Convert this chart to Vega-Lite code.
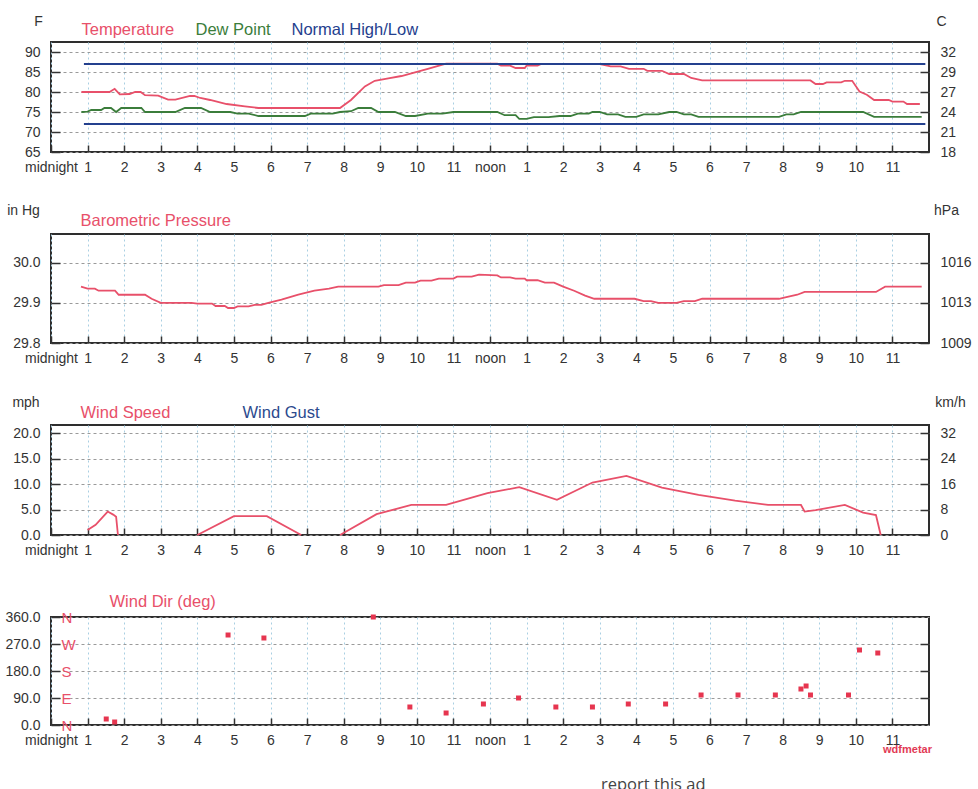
{
  "$schema": "https://vega.github.io/schema/vega-lite/v6.json",
  "background": "white",
  "padding": {"left": 3, "top": 13, "right": 5, "bottom": 0},
  "bounds": "flush",
  "spacing": 82,
  "title": {"text": "report this ad", "orient": "bottom", "anchor": "start", "frame": "group", "dx": 550, "offset": 22, "font": "Open Sans", "fontSize": 16.5, "fontWeight": "normal", "color": "#444"},
  "resolve": {"scale": {"color": "independent"}, "legend": {"color": "independent"}},
  "datasets": {
    "temp": [
      {"h":0.83,"v":80,"s":"Temperature"},{"h":1.6,"v":80,"s":"Temperature"},{"h":1.74,"v":80.8,"s":"Temperature"},{"h":1.88,"v":79.4,"s":"Temperature"},{"h":2.15,"v":79.5,"s":"Temperature"},{"h":2.3,"v":80,"s":"Temperature"},{"h":2.45,"v":80,"s":"Temperature"},{"h":2.57,"v":79.2,"s":"Temperature"},{"h":2.93,"v":79.1,"s":"Temperature"},{"h":3.2,"v":78.1,"s":"Temperature"},{"h":3.4,"v":78.1,"s":"Temperature"},{"h":3.8,"v":79,"s":"Temperature"},{"h":3.92,"v":79,"s":"Temperature"},{"h":4.08,"v":78.5,"s":"Temperature"},{"h":4.35,"v":78,"s":"Temperature"},{"h":4.8,"v":77,"s":"Temperature"},{"h":5.3,"v":76.4,"s":"Temperature"},{"h":5.67,"v":76,"s":"Temperature"},{"h":7.9,"v":76,"s":"Temperature"},{"h":8.2,"v":78,"s":"Temperature"},{"h":8.58,"v":81.4,"s":"Temperature"},{"h":8.85,"v":82.8,"s":"Temperature"},{"h":9.22,"v":83.4,"s":"Temperature"},{"h":9.58,"v":84,"s":"Temperature"},{"h":9.95,"v":84.9,"s":"Temperature"},{"h":10.3,"v":85.8,"s":"Temperature"},{"h":10.68,"v":86.8,"s":"Temperature"},{"h":10.8,"v":87.1,"s":"Temperature"},{"h":12.2,"v":87.1,"s":"Temperature"},{"h":12.3,"v":86.6,"s":"Temperature"},{"h":12.55,"v":86.6,"s":"Temperature"},{"h":12.7,"v":86,"s":"Temperature"},{"h":12.95,"v":86,"s":"Temperature"},{"h":13.0,"v":86.6,"s":"Temperature"},{"h":13.3,"v":86.6,"s":"Temperature"},{"h":13.4,"v":87,"s":"Temperature"},{"h":15.0,"v":87,"s":"Temperature"},{"h":15.3,"v":86.4,"s":"Temperature"},{"h":15.57,"v":86.4,"s":"Temperature"},{"h":15.8,"v":85.8,"s":"Temperature"},{"h":16.2,"v":85.8,"s":"Temperature"},{"h":16.3,"v":85.3,"s":"Temperature"},{"h":16.7,"v":85.3,"s":"Temperature"},{"h":16.9,"v":84.5,"s":"Temperature"},{"h":17.3,"v":84.5,"s":"Temperature"},{"h":17.5,"v":83.5,"s":"Temperature"},{"h":17.8,"v":82.9,"s":"Temperature"},{"h":20.76,"v":82.9,"s":"Temperature"},{"h":20.9,"v":82,"s":"Temperature"},{"h":21.1,"v":82,"s":"Temperature"},{"h":21.2,"v":82.4,"s":"Temperature"},{"h":21.6,"v":82.4,"s":"Temperature"},{"h":21.7,"v":82.8,"s":"Temperature"},{"h":21.9,"v":82.8,"s":"Temperature"},{"h":22.1,"v":80.1,"s":"Temperature"},{"h":22.3,"v":79.3,"s":"Temperature"},{"h":22.5,"v":78,"s":"Temperature"},{"h":22.9,"v":78,"s":"Temperature"},{"h":23.0,"v":77.6,"s":"Temperature"},{"h":23.3,"v":77.6,"s":"Temperature"},{"h":23.4,"v":77,"s":"Temperature"},{"h":23.75,"v":77,"s":"Temperature"},
      {"h":0.83,"v":75,"s":"Dew Point"},{"h":1.0,"v":75.1,"s":"Dew Point"},{"h":1.1,"v":75.5,"s":"Dew Point"},{"h":1.37,"v":75.5,"s":"Dew Point"},{"h":1.46,"v":76,"s":"Dew Point"},{"h":1.64,"v":76,"s":"Dew Point"},{"h":1.78,"v":75,"s":"Dew Point"},{"h":1.92,"v":76,"s":"Dew Point"},{"h":2.47,"v":76,"s":"Dew Point"},{"h":2.57,"v":75,"s":"Dew Point"},{"h":3.4,"v":75,"s":"Dew Point"},{"h":3.66,"v":76,"s":"Dew Point"},{"h":4.1,"v":76,"s":"Dew Point"},{"h":4.35,"v":75,"s":"Dew Point"},{"h":4.9,"v":75,"s":"Dew Point"},{"h":5.1,"v":74.6,"s":"Dew Point"},{"h":5.4,"v":74.6,"s":"Dew Point"},{"h":5.67,"v":74,"s":"Dew Point"},{"h":6.94,"v":74,"s":"Dew Point"},{"h":7.1,"v":74.6,"s":"Dew Point"},{"h":7.7,"v":74.6,"s":"Dew Point"},{"h":7.9,"v":75,"s":"Dew Point"},{"h":8.2,"v":75.2,"s":"Dew Point"},{"h":8.4,"v":76,"s":"Dew Point"},{"h":8.75,"v":76,"s":"Dew Point"},{"h":8.95,"v":75,"s":"Dew Point"},{"h":9.4,"v":75,"s":"Dew Point"},{"h":9.7,"v":74,"s":"Dew Point"},{"h":9.95,"v":74,"s":"Dew Point"},{"h":10.3,"v":74.6,"s":"Dew Point"},{"h":10.7,"v":74.6,"s":"Dew Point"},{"h":11.0,"v":75,"s":"Dew Point"},{"h":12.2,"v":75,"s":"Dew Point"},{"h":12.4,"v":74.2,"s":"Dew Point"},{"h":12.7,"v":74.2,"s":"Dew Point"},{"h":12.8,"v":73.3,"s":"Dew Point"},{"h":13.0,"v":73.3,"s":"Dew Point"},{"h":13.2,"v":73.7,"s":"Dew Point"},{"h":13.6,"v":73.7,"s":"Dew Point"},{"h":13.9,"v":74,"s":"Dew Point"},{"h":14.2,"v":74,"s":"Dew Point"},{"h":14.4,"v":74.6,"s":"Dew Point"},{"h":14.7,"v":74.6,"s":"Dew Point"},{"h":14.8,"v":75,"s":"Dew Point"},{"h":15.0,"v":75,"s":"Dew Point"},{"h":15.2,"v":74.4,"s":"Dew Point"},{"h":15.5,"v":74.4,"s":"Dew Point"},{"h":15.7,"v":73.8,"s":"Dew Point"},{"h":16.0,"v":73.8,"s":"Dew Point"},{"h":16.2,"v":74.4,"s":"Dew Point"},{"h":16.6,"v":74.4,"s":"Dew Point"},{"h":16.9,"v":75,"s":"Dew Point"},{"h":17.1,"v":75,"s":"Dew Point"},{"h":17.3,"v":74.4,"s":"Dew Point"},{"h":17.5,"v":74.4,"s":"Dew Point"},{"h":17.7,"v":73.8,"s":"Dew Point"},{"h":19.9,"v":73.8,"s":"Dew Point"},{"h":20.1,"v":74.4,"s":"Dew Point"},{"h":20.3,"v":74.4,"s":"Dew Point"},{"h":20.5,"v":75,"s":"Dew Point"},{"h":22.2,"v":75,"s":"Dew Point"},{"h":22.5,"v":73.8,"s":"Dew Point"},{"h":23.8,"v":73.8,"s":"Dew Point"}
    ],
    "normal": [
      {"h":0.9,"v":87,"k":"high","s":"Normal High/Low"},{"h":23.9,"v":87,"k":"high","s":"Normal High/Low"},
      {"h":0.9,"v":72,"k":"low","s":"Normal High/Low"},{"h":23.9,"v":72,"k":"low","s":"Normal High/Low"}
    ],
    "pres": [
      {"h":0.82,"v":29.94},{"h":1.0,"v":29.935},{"h":1.2,"v":29.935},{"h":1.3,"v":29.93},{"h":1.75,"v":29.93},{"h":1.85,"v":29.92},{"h":2.57,"v":29.92},{"h":2.75,"v":29.91},{"h":3.0,"v":29.9},{"h":3.84,"v":29.9},{"h":4.0,"v":29.898},{"h":4.4,"v":29.898},{"h":4.5,"v":29.892},{"h":4.75,"v":29.892},{"h":4.84,"v":29.887},{"h":5.0,"v":29.887},{"h":5.1,"v":29.891},{"h":5.4,"v":29.891},{"h":5.57,"v":29.895},{"h":5.75,"v":29.895},{"h":5.94,"v":29.9},{"h":6.3,"v":29.908},{"h":6.76,"v":29.92},{"h":7.2,"v":29.93},{"h":7.6,"v":29.935},{"h":7.85,"v":29.94},{"h":8.95,"v":29.94},{"h":9.1,"v":29.944},{"h":9.5,"v":29.944},{"h":9.7,"v":29.95},{"h":9.95,"v":29.95},{"h":10.1,"v":29.955},{"h":10.4,"v":29.955},{"h":10.6,"v":29.96},{"h":11.0,"v":29.96},{"h":11.1,"v":29.965},{"h":11.5,"v":29.965},{"h":11.7,"v":29.97},{"h":12.2,"v":29.968},{"h":12.3,"v":29.963},{"h":12.55,"v":29.963},{"h":12.7,"v":29.96},{"h":12.95,"v":29.96},{"h":13.0,"v":29.956},{"h":13.3,"v":29.956},{"h":13.5,"v":29.95},{"h":13.75,"v":29.95},{"h":14.0,"v":29.94},{"h":14.3,"v":29.93},{"h":14.6,"v":29.918},{"h":14.85,"v":29.91},{"h":15.95,"v":29.91},{"h":16.2,"v":29.904},{"h":16.4,"v":29.904},{"h":16.6,"v":29.9},{"h":17.1,"v":29.9},{"h":17.3,"v":29.904},{"h":17.6,"v":29.904},{"h":17.8,"v":29.91},{"h":19.9,"v":29.91},{"h":20.1,"v":29.914},{"h":20.4,"v":29.92},{"h":20.6,"v":29.927},{"h":22.55,"v":29.927},{"h":22.8,"v":29.94},{"h":23.8,"v":29.94}
    ],
    "wind": [
      {"h":1.0,"v":1.0,"g":1},{"h":1.22,"v":2.0,"g":1},{"h":1.55,"v":4.6,"g":1},{"h":1.7,"v":4.0,"g":1},{"h":1.78,"v":3.6,"g":1},{"h":1.83,"v":0,"g":1},
      {"h":4.0,"v":0,"g":2},{"h":5.0,"v":3.7,"g":2},{"h":5.9,"v":3.7,"g":2},{"h":6.84,"v":0,"g":2},
      {"h":7.9,"v":0,"g":3},{"h":8.9,"v":4.1,"g":3},{"h":9.85,"v":5.9,"g":3},{"h":10.8,"v":5.9,"g":3},{"h":11.93,"v":8.2,"g":3},{"h":12.8,"v":9.4,"g":3},{"h":13.83,"v":6.9,"g":3},{"h":14.8,"v":10.3,"g":3},{"h":15.73,"v":11.6,"g":3},{"h":16.7,"v":9.3,"g":3},{"h":17.7,"v":7.9,"g":3},{"h":18.7,"v":6.75,"g":3},{"h":19.6,"v":5.9,"g":3},{"h":20.5,"v":5.9,"g":3},{"h":20.6,"v":4.6,"g":3},{"h":20.9,"v":4.9,"g":3},{"h":21.7,"v":5.9,"g":3},{"h":22.2,"v":4.4,"g":3},{"h":22.55,"v":3.9,"g":3},{"h":22.68,"v":0,"g":3}
    ],
    "dir": [
      {"h":1.51,"v":20},{"h":1.74,"v":10},{"h":4.84,"v":300},{"h":5.82,"v":290},{"h":8.81,"v":360},{"h":9.81,"v":60},{"h":10.8,"v":40},{"h":11.82,"v":70},{"h":12.78,"v":90},{"h":13.8,"v":60},{"h":14.8,"v":60},{"h":15.78,"v":70},{"h":16.8,"v":70},{"h":17.77,"v":100},{"h":18.78,"v":100},{"h":19.8,"v":100},{"h":20.5,"v":120},{"h":20.64,"v":130},{"h":20.76,"v":100},{"h":21.8,"v":100},{"h":22.1,"v":250},{"h":22.6,"v":240}
    ]
  },
  "vconcat": [
    {
      "width": 878, "height": 110,
      "encoding": {"x": {"field": "h", "type": "quantitative", "scale": {"domain": [0, 24], "nice": false, "zero": false}, "axis": {"values": [0,1,2,3,4,5,6,7,8,9,10,11,12,13,14,15,16,17,18,19,20,21,22,23], "labelExpr": "datum.value == 0 ? 'midnight' : datum.value == 12 ? 'noon' : datum.value > 12 ? '' + (datum.value - 12) : '' + datum.value", "title": null}}},
      "resolve": {"scale": {"y": "independent"}},
      "layer": [
        {"data": {"name": "temp"}, "mark": {"type": "line", "strokeWidth": 1.8},
         "encoding": {
           "y": {"field": "v", "type": "quantitative", "scale": {"domain": [65, 92.5], "nice": false, "zero": false}, "axis": {"orient": "left", "values": [65,70,75,80,85,90], "format": "d", "title": "F", "titleX": -13, "titleY": -17}},
           "color": {"field": "s", "type": "nominal", "scale": {"domain": ["Temperature", "Dew Point", "Normal High/Low"], "range": ["#e8506a", "#3b7d3b", "#24408e"]},
             "legend": {"orient": "none", "legendX": 14, "legendY": -20, "direction": "horizontal", "title": null, "symbolType": "circle", "symbolSize": 0, "symbolStrokeWidth": 0, "symbolOpacity": 0, "labelOffset": 0, "columnPadding": 4, "labelFontSize": 16.5, "labelLimit": 400, "padding": 0,
               "encode": {"labels": {"update": {"fill": {"signal": "datum.value === 'Temperature' ? '#e8506a' : datum.value === 'Dew Point' ? '#3b7d3b' : '#24408e'"}}}}}}
         }},
        {"data": {"name": "normal"}, "mark": {"type": "line", "strokeWidth": 2},
         "encoding": {
           "y": {"field": "v", "type": "quantitative", "scale": {"domain": [65, 92.5], "nice": false, "zero": false}, "axis": null},
           "color": {"field": "s", "type": "nominal"},
           "detail": {"field": "k"}
         }},
        {"data": {"name": "temp"}, "mark": {"type": "line", "opacity": 0},
         "encoding": {
           "y": {"field": "v", "type": "quantitative", "scale": {"domain": [65, 92.5], "nice": false, "zero": false}, "axis": {"orient": "right", "grid": false, "values": [65,70,75,80,85,90], "labelExpr": "format((datum.value - 32) * 5 / 9, '.0f')", "title": "C", "titleX": 12, "titleY": -17}}
         }}
      ]
    },
    {
      "width": 878, "height": 109,
      "data": {"name": "pres"},
      "transform": [{"calculate": "'Barometric Pressure'", "as": "s"}],
      "encoding": {"x": {"field": "h", "type": "quantitative", "scale": {"domain": [0, 24], "nice": false, "zero": false}, "axis": {"values": [0,1,2,3,4,5,6,7,8,9,10,11,12,13,14,15,16,17,18,19,20,21,22,23], "labelExpr": "datum.value == 0 ? 'midnight' : datum.value == 12 ? 'noon' : datum.value > 12 ? '' + (datum.value - 12) : '' + datum.value", "title": null}}},
      "resolve": {"scale": {"y": "independent"}},
      "layer": [
        {"mark": {"type": "line", "strokeWidth": 1.8},
         "encoding": {
           "y": {"field": "v", "type": "quantitative", "scale": {"domain": [29.8, 30.071], "nice": false, "zero": false}, "axis": {"orient": "left", "values": [29.8, 29.9, 30.0], "format": ".1f", "title": "in Hg", "titleX": -28, "titleY": -20}},
           "color": {"field": "s", "type": "nominal", "scale": {"domain": ["Barometric Pressure"], "range": ["#e8506a"]},
             "legend": {"orient": "none", "legendX": 13, "legendY": -21, "direction": "horizontal", "title": null, "symbolType": "circle", "symbolSize": 0, "symbolStrokeWidth": 0, "symbolOpacity": 0, "labelOffset": 0, "labelFontSize": 16.5, "labelLimit": 400, "padding": 0, "labelColor": "#e8506a"}}
         }},
        {"mark": {"type": "line", "opacity": 0},
         "encoding": {
           "y": {"field": "v", "type": "quantitative", "scale": {"domain": [29.8, 30.071], "nice": false, "zero": false}, "axis": {"orient": "right", "grid": false, "values": [29.8, 29.9, 30.0], "labelExpr": "format(datum.value * 33.8639, '.0f')", "title": "hPa", "titleX": 17, "titleY": -20}}
         }}
      ]
    },
    {
      "width": 878, "height": 110,
      "data": {"name": "wind"},
      "transform": [{"calculate": "'Wind Speed'", "as": "s"}],
      "encoding": {"x": {"field": "h", "type": "quantitative", "scale": {"domain": [0, 24], "nice": false, "zero": false}, "axis": {"values": [0,1,2,3,4,5,6,7,8,9,10,11,12,13,14,15,16,17,18,19,20,21,22,23], "labelExpr": "datum.value == 0 ? 'midnight' : datum.value == 12 ? 'noon' : datum.value > 12 ? '' + (datum.value - 12) : '' + datum.value", "title": null}}},
      "resolve": {"scale": {"y": "independent"}},
      "layer": [
        {"mark": {"type": "line", "strokeWidth": 1.8},
         "encoding": {
           "y": {"field": "v", "type": "quantitative", "scale": {"domain": [0, 21.6], "nice": false, "zero": false}, "axis": {"orient": "left", "values": [0, 5, 10, 15, 20], "format": ".1f", "title": "mph", "titleX": -25.5, "titleY": -19}},
           "detail": {"field": "g"},
           "color": {"field": "s", "type": "nominal", "scale": {"domain": ["Wind Speed", "Wind Gust"], "range": ["#e8506a", "#2c4a8e"]},
             "legend": {"orient": "none", "legendX": 13, "legendY": -20, "direction": "horizontal", "title": null, "symbolType": "circle", "symbolSize": 0, "symbolStrokeWidth": 0, "symbolOpacity": 0, "labelOffset": 0, "columnPadding": 55, "labelFontSize": 16.5, "labelLimit": 400, "padding": 0,
               "encode": {"labels": {"update": {"fill": {"signal": "datum.value === 'Wind Speed' ? '#e8506a' : '#2c4a8e'"}}}}}}
         }},
        {"mark": {"type": "line", "opacity": 0},
         "encoding": {
           "y": {"field": "v", "type": "quantitative", "scale": {"domain": [0, 21.6], "nice": false, "zero": false}, "axis": {"orient": "right", "grid": false, "values": [0, 5, 10, 15, 20], "labelExpr": "format(datum.value * 1.609344, '.0f')", "title": "km/h", "titleX": 21, "titleY": -19}},
           "detail": {"field": "g"}
         }}
      ]
    },
    {
      "width": 878, "height": 108,
      "data": {"name": "dir"},
      "transform": [{"calculate": "'Wind Dir (deg)'", "as": "s"}],
      "encoding": {"x": {"field": "h", "type": "quantitative", "scale": {"domain": [0, 24], "nice": false, "zero": false}, "axis": {"values": [0,1,2,3,4,5,6,7,8,9,10,11,12,13,14,15,16,17,18,19,20,21,22,23], "labelExpr": "datum.value == 0 ? 'midnight' : datum.value == 12 ? 'noon' : datum.value > 12 ? '' + (datum.value - 12) : '' + datum.value", "title": "wdfmetar", "titleX": 856, "titleY": 27, "titleAlign": "center", "titleBaseline": "alphabetic", "titleColor": "#e23a55", "titleFontSize": 11, "titleFontWeight": "bold"}}},
      "resolve": {"scale": {"y": "independent"}},
      "layer": [
        {"mark": {"type": "point", "shape": "square", "filled": true, "size": 25, "opacity": 1},
         "encoding": {
           "y": {"field": "v", "type": "quantitative", "scale": {"domain": [0, 360], "nice": false, "zero": false}, "axis": {"orient": "left", "values": [0, 90, 180, 270, 360], "format": ".1f", "title": null}},
           "color": {"field": "s", "type": "nominal", "scale": {"domain": ["Wind Dir (deg)"], "range": ["#e6354f"]},
             "legend": {"orient": "none", "legendX": 42, "legendY": -23, "direction": "horizontal", "title": null, "symbolType": "circle", "symbolSize": 0, "symbolStrokeWidth": 0, "symbolOpacity": 0, "labelOffset": 0, "labelFontSize": 16.5, "labelLimit": 400, "padding": 0, "labelColor": "#e8506a"}}
         }},
        {"mark": {"type": "point", "opacity": 0},
         "encoding": {
           "y": {"field": "v", "type": "quantitative", "scale": {"domain": [0, 360], "nice": false, "zero": false}, "axis": {"orient": "right", "grid": false, "values": [90, 180, 270], "labels": false, "title": null}}
         }},
        {"mark": {"type": "point", "opacity": 0},
         "encoding": {
           "y": {"field": "v", "type": "quantitative", "scale": {"domain": [0, 360], "nice": false, "zero": false}, "axis": {"orient": "left", "offset": -10, "grid": false, "ticks": false, "values": [0, 90, 180, 270, 360], "labelExpr": "datum.value == 90 ? 'E' : datum.value == 180 ? 'S' : datum.value == 270 ? 'W' : 'N'", "labelAlign": "left", "labelPadding": 0, "labelColor": "#e8506a", "labelFontSize": 15, "title": null}}
         }}
      ]
    }
  ],
  "config": {
    "font": "Liberation Sans",
    "view": {"stroke": "#2e2e2e", "strokeWidth": 2},
    "axis": {"labelFont": "Liberation Sans", "labelFontSize": 14, "labelColor": "#333", "titleFont": "Liberation Sans", "titleFontSize": 14, "titleFontWeight": "normal", "titleColor": "#333", "domain": false, "tickColor": "#333", "tickWidth": 1.5, "labelFlush": false, "labelOverlap": false},
    "axisX": {"tickSize": -7, "labelPadding": 15, "gridColor": "#a9cfe2", "gridDash": [2, 3], "gridWidth": 1},
    "axisY": {"tickSize": -9, "labelPadding": 20, "gridColor": "#9a9a9a", "gridDash": [3, 3], "gridWidth": 1, "titleAngle": 0, "titleAlign": "center", "titleBaseline": "alphabetic"},
    "legend": {"labelFont": "Liberation Sans"}
  }
}
